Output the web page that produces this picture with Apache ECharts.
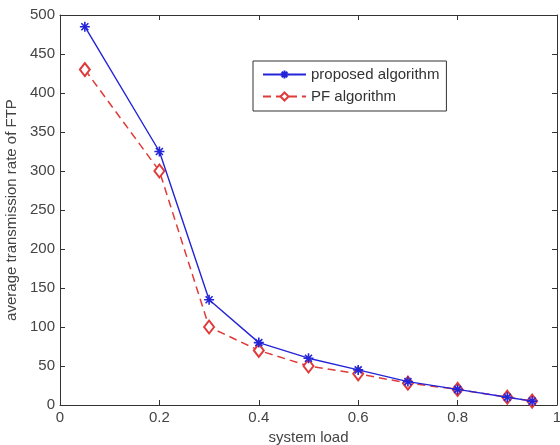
<!DOCTYPE html>
<html><head><meta charset="utf-8">
<script src="https://cdn.jsdelivr.net/npm/echarts@6/dist/echarts.min.js"></script>
<style>html,body{margin:0;padding:0;background:#fff}#c{width:560px;height:445px}</style>
</head><body><div id="c"></div>
<script>
const xLoad = [0.05, 0.2, 0.3, 0.4, 0.5, 0.6, 0.7, 0.8, 0.9, 0.95];
const proposed = [485, 325, 135, 80, 60, 45, 30, 20, 10, 5];
const pf = [430, 300, 100, 70, 50, 40, 28, 20, 10, 5];
const seriesNames = ['proposed algorithm', 'PF algorithm'];

const star = 'path://M0,5L10,5M5,0L5,10M1.5,1.5L8.5,8.5M8.5,1.5L1.5,8.5';
const font = 'Liberation Sans, Arial, sans-serif';
const chart = echarts.init(document.getElementById('c'));
function ax(extra) {
  return Object.assign({
    type: 'value',
    axisLine: {onZero: false, lineStyle: {color: '#333', width: 1}},
    axisTick: {inside: true, length: 5, lineStyle: {color: '#333'}},
    splitLine: {show: false},
    axisLabel: {color: '#444', fontSize: 15, fontFamily: font, margin: 5}
  }, extra);
}
const nameStyle = {fontSize: 15, fontFamily: font, color: '#444'};
chart.setOption({
  animation: false,
  grid: {left: 60, right: 3, top: 15, bottom: 40, containLabel: false, outerBoundsMode: 'none'},
  legend: {
    left: 253, top: 61, orient: 'vertical',
    borderColor: '#333', borderWidth: 1, padding: [6, 7, 7, 9],
    itemWidth: 43, itemHeight: 10, itemGap: 7,
    textStyle: {fontSize: 15, fontFamily: font, color: '#333'},
    data: seriesNames
  },
  xAxis: [
    ax({min: 0, max: 1, interval: 0.2, name: 'system load',
      nameLocation: 'middle', nameGap: 24, nameTextStyle: nameStyle}),
    ax({position: 'top', min: 0, max: 1, interval: 0.2, axisLabel: {show: false}})
  ],
  yAxis: [
    ax({min: 0, max: 500, interval: 50, name: 'average transmission rate of FTP',
      nameLocation: 'middle', nameGap: 31, nameTextStyle: nameStyle}),
    ax({position: 'right', min: 0, max: 500, interval: 50, axisLabel: {show: false}})
  ],
  series: [
    {
      name: seriesNames[0], type: 'line', data: xLoad.map((x, i) => [x, proposed[i]]),
      symbol: star, symbolSize: 10, z: 3,
      lineStyle: {color: '#2424d8', width: 1.4},
      itemStyle: {color: 'none', borderColor: '#2424d8', borderWidth: 1.6}
    },
    {
      name: seriesNames[1], type: 'line', data: xLoad.map((x, i) => [x, pf[i]]),
      symbol: 'emptyDiamond', symbolSize: [10, 13], z: 2,
      lineStyle: {color: '#e03a3a', width: 1.5, type: [8, 5]},
      itemStyle: {color: '#e03a3a', borderColor: '#e03a3a', borderWidth: 1.6}
    }
  ]
});
</script></body></html>
